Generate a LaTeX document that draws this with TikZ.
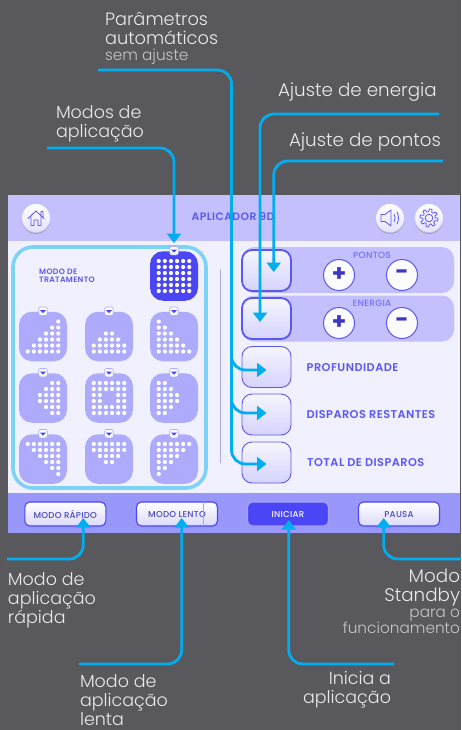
\documentclass[tikz,border=0pt]{standalone}
\usepackage{fontspec}
\setmainfont{Poppins}
\newfontfamily\lightf{Poppins Light}
\newfontfamily\medf{Poppins Medium}[LetterSpace=3]
\newfontfamily\semif{Poppins SemiBold}[LetterSpace=4]
\usetikzlibrary{arrows.meta,calc}
\definecolor{bgc}{HTML}{59585C}
\definecolor{hdr}{HTML}{C3C0FD}
\definecolor{bodyc}{HTML}{F0F0FE}
\definecolor{foot}{HTML}{9A97FB}
\definecolor{ring}{HTML}{7DD3F5}
\definecolor{tilec}{HTML}{AEABFD}
\definecolor{sel}{HTML}{4A45F5}
\definecolor{ink}{HTML}{5B57F5}
\definecolor{conn}{HTML}{00AEEF}
\definecolor{lab}{HTML}{E9E9EA}
\definecolor{labsub}{HTML}{C6C6C8}
\tikzset{
  x=1pt,y=-1pt,
  wire/.style={draw=conn,line width=2.8pt,rounded corners=14pt,-{Triangle[length=9.5pt,width=14pt]}},
  caption/.style={inner sep=0pt,outer sep=0pt,text=lab,font=\lightf\fontsize{17.5}{19}\selectfont,align=left},
  capright/.style={caption,align=right},
  capwide/.style={font=\lightf\fontsize{18.3}{19}\selectfont},
  tilebox/.style={rectangle,rounded corners=13pt,minimum width=48pt,minimum height=49.5pt,inner sep=0pt,fill=tilec},
  tagbox/.style={rectangle,rounded corners=2pt,minimum size=8.5pt,inner sep=0pt,fill=white,draw=tilec,line width=.7pt},
  bigbtn/.style={rectangle,rounded corners=10pt,minimum width=49pt,minimum height=41pt,inner sep=0pt,top color=white!85!hdr,bottom color=hdr!70!white,draw=ink,line width=.9pt},
  thickbtn/.style={bigbtn,line width=1.8pt},
  footbtn/.style={rectangle,rounded corners=5pt,minimum width=81pt,minimum height=24pt,inner sep=0pt,top color=white,bottom color=hdr!60!white,draw=sel,line width=1.1pt,text=ink!80!black,font=\medf\fontsize{8.6}{9}\selectfont},
  pmbtn/.style={circle,minimum size=31pt,inner sep=0pt,fill=white!95!hdr,draw=ink,line width=1pt,text=sel!80!black,font=\bfseries\fontsize{23}{23}\selectfont},
  roundbtn/.style={circle,minimum size=29pt,inner sep=0pt,top color=white,bottom color=hdr!45!white,draw=hdr,line width=.8pt},
  band/.style={rectangle,rounded corners=12pt,minimum width=212pt,minimum height=46pt,inner sep=0pt,fill=hdr},
  paneltxt/.style={inner sep=0pt,text=ink,font=\semif\fontsize{11.3}{12}\selectfont,anchor=west},
  bandtxt/.style={inner sep=0pt,text=ink!85!white,font=\medf\fontsize{9}{10}\selectfont},
  icon/.style={draw=ink,line width=.8pt,line join=round,line cap=round},
}
% name, centre x, centre y, fill, row/from/to list
\newcommand{\dottile}[5]{%
  \node[tilebox,fill=#4] (#1) at (#2,#3) {};
  \foreach \r/\a/\b in {#5} {\foreach \c in {\a,...,\b} {\fill[white] ({#2+(\c-2.5)*6.1},{#3+(\r-2.5)*6}) circle[radius=2.1pt];}}
  \node[tagbox] (#1tag) at (#2,{#3-25.3}) {};
  \fill[sel] ({#2-3},{#3-26.5}) -- ({#2+3},{#3-26.5}) -- (#2,{#3-23.3}) -- cycle;
}
\newcommand{\subtext}[1]{{\color{labsub}\fontsize{15.3}{16}\selectfont #1}}
\begin{document}
\begin{tikzpicture}
\useasboundingbox (0,0) rectangle (461,730);
\fill[bgc] (0,0) rectangle (461,730);
% panel
\fill[bodyc] (8,195) rectangle (460,533);
\fill[hdr] (8,195) rectangle (460,241);
\fill[foot] (8,493) rectangle (460,533);
% header
\fill[black!35] (36,219.5) circle[radius=14.5pt];
\node[roundbtn] (home) at (36,218) {};
\fill[black!35] (390,219.5) circle[radius=14.5pt];
\node[roundbtn] (sound) at (390,218) {};
\fill[black!35] (429,219.5) circle[radius=14.5pt];
\node[roundbtn] (gear) at (429,218) {};
\draw[icon] (28,218.5) -- (36,211) -- (44,218.5) (41,214.5) -- (41,211.5) -- (43,211.5) -- (43,216.5)
  (31,217) -- (31,225.5) -- (34,225.5) -- (34,220) -- (38,220) -- (38,225.5) -- (41,225.5) -- (41,217);
\draw[icon] (381,214.5) -- (385,214.5) -- (391,210) -- (391,226) -- (385,221.5) -- (381,221.5) -- cycle;
\draw[icon] (394,214) .. controls (395.5,216.5) and (395.5,219.5) .. (394,222);
\draw[icon] (397,212) .. controls (399,216) and (399,220) .. (397,224);
\draw[icon,samples=145,domain=0:360] plot ({429+(7.6+1.4*max(-1,min(1,2.5*sin(8*\x))))*cos(\x)},{218+(7.6+1.4*max(-1,min(1,2.5*sin(8*\x))))*sin(\x)}) -- cycle;
\draw[icon] (429,218) circle[radius=3.8pt];
\node[inner sep=0pt,text=ink,font=\semif\fontsize{10.8}{12}\selectfont] (title) at (233,217) {APLICADOR 9D};
% treatment group
\draw[ring,line width=3.6pt,rounded corners=20pt] (13,247) rectangle (206,488);
\node[inner sep=0pt,text=ink,font=\semif\fontsize{7.8}{8}\selectfont,align=left,anchor=west] (modo) at (39,276) {MODO DE\\TRATAMENTO};
\dottile{t0}{174}{276}{sel}{0/0/5,1/0/5,2/0/5,3/0/5,4/0/5,5/0/5}
\dottile{t1}{43}{336.5}{tilec}{0/5/5,1/4/5,2/3/5,3/2/5,4/1/5,5/0/5}
\dottile{t2}{109}{336.5}{tilec}{2/2/3,3/1/4,4/0/5,5/0/5}
\dottile{t3}{174}{336.5}{tilec}{0/0/0,1/0/1,2/0/2,3/0/3,4/0/4,5/0/5}
\dottile{t4}{43}{398}{tilec}{0/4/5,1/3/5,2/2/5,3/2/5,4/3/5,5/4/5}
\dottile{t5}{109}{398}{tilec}{0/0/5,1/0/5,2/0/1,2/4/5,3/0/1,3/4/5,4/0/5,5/0/5}
\dottile{t6}{174}{398}{tilec}{0/0/1,1/0/2,2/0/3,3/0/3,4/0/2,5/0/1}
\dottile{t7}{43}{459}{tilec}{0/0/5,1/1/5,2/2/5,3/3/5,4/4/5,5/5/5}
\dottile{t8}{109}{459}{tilec}{0/0/5,1/0/5,2/1/4,3/2/3}
\dottile{t9}{174}{459}{tilec}{0/0/5,1/0/4,2/0/3,3/0/2,4/0/1,5/0/0}
\draw[tilec,line width=1.5pt] (220.5,269) -- (220.5,463);
% right column
\node[band] (bandP) at (348,270) {};
\node[band] (bandE) at (348,318.5) {};
\node[thickbtn] (bP) at (266.5,270.5) {};
\node[thickbtn] (bE) at (266.5,318.5) {};
\node[bigbtn] (bD) at (266.5,367) {};
\node[bigbtn] (bR) at (266.5,414.5) {};
\node[bigbtn] (bT) at (266.5,462.5) {};
\node[bandtxt] (lP) at (372,255) {PONTOS};
\node[bandtxt] (lE) at (372,303) {ENERGIA};
\node[pmbtn] (pP) at (339,275) {+};
\node[pmbtn] (mP) at (402,275) {-};
\node[pmbtn] (pE) at (339,323) {+};
\node[pmbtn] (mE) at (402,323) {-};
\node[paneltxt] (tD) at (306.5,367.5) {PROFUNDIDADE};
\node[paneltxt] (tR) at (306.5,414.5) {DISPAROS RESTANTES};
\node[paneltxt] (tT) at (307,462.5) {TOTAL DE DISPAROS};
% footer
\node[footbtn] (fR) at (65.3,514) {MODO RÁPIDO};
\node[footbtn] (fL) at (177,514) {MODO LENTO};
\node[footbtn,top color=sel,bottom color=sel,draw=ink!55!white,text=white!90!hdr] (fI) at (288,514) {INICIAR};
\node[footbtn] (fP) at (399,514) {PAUSA};
\draw[ink!55!white,line width=.5pt] (203,502) -- (203,526);
% captions (anchored on the baseline of their last line)
\node[caption,anchor=base west,font=\lightf\fontsize{17.8}{19}\selectfont] (cAuto) at (105,60.7) {Parâmetros\\automáticos\\[-2.5pt]\subtext{sem ajuste}};
\node[caption,anchor=base west] (cModos) at (56,137.6) {Modos de\\aplicação};
\node[caption,capwide,anchor=base west] (cEner) at (278,96.7) {Ajuste de energia};
\node[caption,capwide,anchor=base west] (cPont) at (289,147) {Ajuste de pontos};
\node[caption,anchor=base west] (cRap) at (8,623) {Modo de\\aplicação\\rápida};
\node[caption,anchor=base west] (cLen) at (80,725) {Modo de\\aplicação\\lenta};
\node[capright,anchor=base east] (cIni) at (391,703) {Inicia a\\aplicação};
\node[capright,capwide,anchor=base east] (cStb) at (460,633) {Modo\\Standby\\[-3pt]\subtext{para o}\\[-3pt]\subtext{funcionamento}};
% connector ends
\coordinate (sAuto) at (98,70);
\coordinate (sModos) at (47,148);
\coordinate (sEner) at (439,114);
\coordinate (sPont) at (443,161);
\coordinate (sRap) at (7,559);
\coordinate (sLen) at (79,664);
\coordinate (sIni) at (394,664);
\coordinate (sStb) at (461,559);
\coordinate (tipP) at ($(bP.center)+(7.2,1.5)$);
\coordinate (tipE) at ($(bE.center)+(-6.5,3.5)$);
\coordinate (tipD) at ($(bD.center)+(0,3)$);
\coordinate (tipR) at ($(bR.center)+(0,-1.5)$);
\coordinate (tipT) at ($(bT.center)+(0,1.5)$);
\coordinate (tipM) at ($(t0tag.north)+(0,-3)$);
\coordinate (tipfR) at ($(fR.center)+(18,4)$);
\coordinate (tipfL) at ($(fL.center)+(4.7,4)$);
\coordinate (tipfI) at ($(fI.center)+(.7,6)$);
\coordinate (tipfP) at ($(fP.center)+(-15.3,4)$);
% connectors
\draw[wire] (sAuto) -| (231.5,100) |- (tipD);
\draw[wire] (231.5,100) |- (tipR);
\draw[wire] (231.5,100) |- (tipT);
\draw[wire] (sModos) -| (tipM);
\draw[wire] (sEner) -| (tipE);
\draw[wire] (sPont) -| (tipP);
\draw[wire] (sRap) -| (tipfR);
\draw[wire] (sLen) -| (tipfL);
\draw[wire] (sIni) -| (tipfI);
\draw[wire] (sStb) -| (tipfP);
\end{tikzpicture}
\end{document}
